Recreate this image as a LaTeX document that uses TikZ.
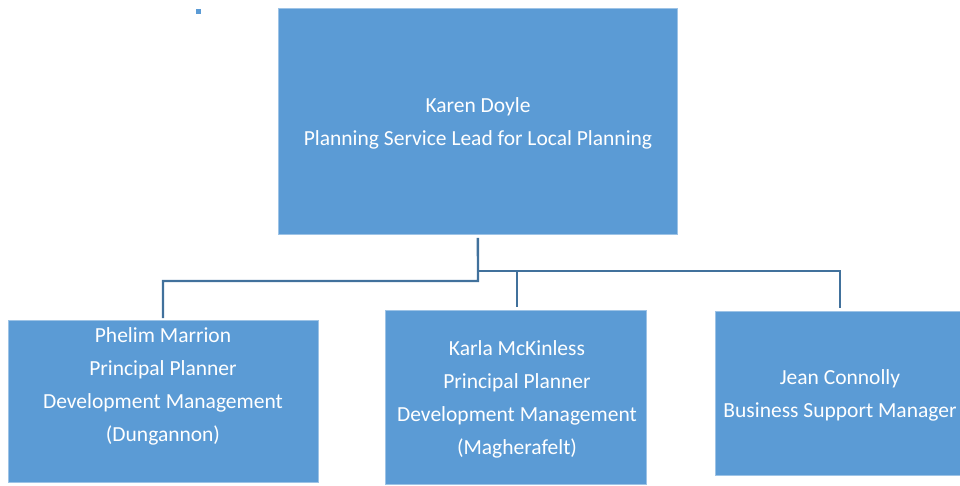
\documentclass[tikz,border=0pt]{standalone}
\usepackage{fontspec}
\setmainfont{Carlito}
\definecolor{boxfill}{HTML}{5B9BD5}
\definecolor{boxedge}{HTML}{9DC3E6}
\definecolor{linkc}{HTML}{41719C}
\begin{document}
\begin{tikzpicture}[x=1pt,y=-1pt,
  box/.style={draw=boxedge,line width=0.8pt,fill=boxfill,anchor=north west,inner sep=0pt},
  txt/.style={text=white,align=center,font=\fontsize{21.5}{33}\selectfont,inner sep=0pt},
  link/.style={draw=linkc,line width=2.4pt}]
\useasboundingbox (0,0) rectangle (960,485);
\fill[boxfill] (195.5,8.5) rectangle (200.5,13.5);
\node[box,minimum width=399pt,minimum height=226pt] (top) at (278,8) {};
\node[box,minimum width=310pt,minimum height=162pt] (b1) at (8,320) {};
\node[box,minimum width=261pt,minimum height=174pt] (b2) at (385,310) {};
\node[box,minimum width=260pt,minimum height=164pt] (b3) at (715,311) {};
\node[txt] (t0) at (478,123) {Karen Doyle\\Planning Service Lead for Local Planning};
\node[txt] (t1) at (163,386) {Phelim Marrion\\Principal Planner\\Development Management\\(Dungannon)};
\node[txt] (t2) at (517,399) {Karla McKinless\\Principal Planner\\Development Management\\(Magherafelt)};
\node[txt] (t3) at (840,395) {Jean Connolly\\Business Support Manager};
\coordinate (j1) at (478,281);
\coordinate (j2) at (478,271);
\draw[link] ([yshift=-3pt]top.south) -- (j1) -| ([yshift=2pt]b1.north -| 163,0);
\draw[link] (j2) -| ([yshift=3pt]b2.north -| 517,0);
\draw[link] (j2) -| ([yshift=3pt]b3.north -| 840,0);
\end{tikzpicture}
\end{document}
